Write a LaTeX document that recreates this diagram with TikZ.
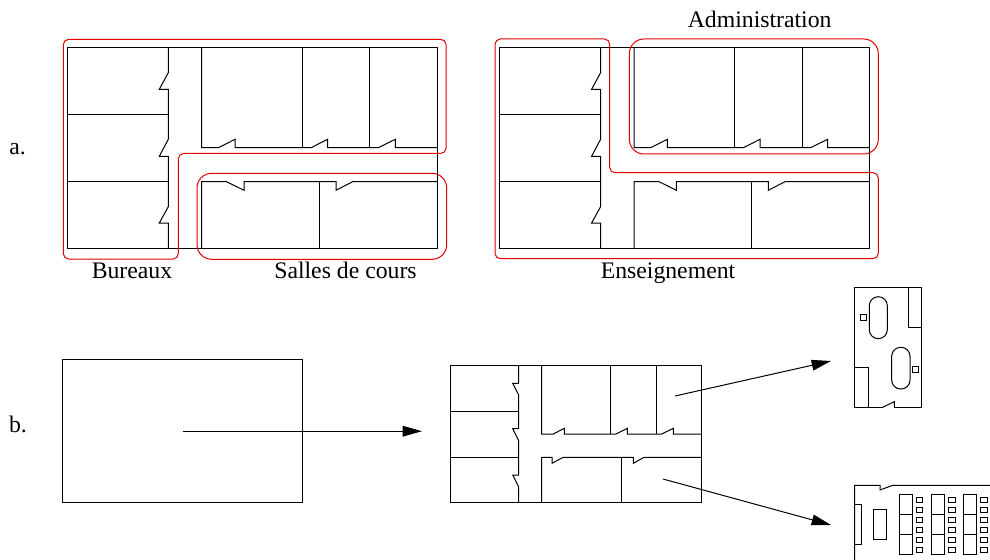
\documentclass[tikz,border=0pt]{standalone}
\usepackage{fontspec}
\setmainfont{Liberation Serif}
\usetikzlibrary{arrows.meta}
\usetikzlibrary{positioning}
\tikzset{
  mur/.style={line width=0.75pt,line join=miter},
  rouge/.style={line width=0.75pt,red!90!black},
  fleche/.style={line width=0.75pt,-{Triangle[length=14.5pt,width=8pt]}},
  titre/.style={anchor=base,inner sep=0pt,font=\fontsize{17.8}{20}\selectfont},
}
% one floor plan with its walls and doors
\newcommand{\grandplan}{
  \draw[mur](67.3,47.5) rectangle (437,248.6);
  \draw[mur](168.3,47.5)--(168.3,72.7)--(159.3,89.3)--(168.3,89.3)--(168.3,139.3)--(159.3,156.3)--(168.3,156.3)
    --(168.3,206.7)--(159.3,223)--(168.3,223)--(168.3,248.6);
  \draw[mur](67.3,114.3)--(168.3,114.3);
  \draw[mur](67.3,181.7)--(168.3,181.7);
  \draw[mur](201.7,47.5)--(201.7,147.7)--(218.3,147.7)--(235,139.3)--(235,147.7)--(311,147.7)--(327.7,139.3)--(327.7,147.7)
    --(378.3,147.7)--(395.3,139.3)--(395.3,147.7)--(437,147.7);
  \draw[mur](302.3,47.5)--(302.3,147.7);
  \draw[mur](369.7,47.5)--(369.7,147.7);
  \draw[mur](201.7,248.6)--(201.7,181.7)--(226.7,181.7)--(244,190.3)--(244,181.7)--(336,181.7)--(336,190.3)--(352.7,181.7)--(437,181.7);
  \draw[mur](319.3,181.7)--(319.3,248.6);
}
\begin{document}
\begin{tikzpicture}[x=0.75pt,y=-0.75pt]
\useasboundingbox (0,0) rectangle (990,560);

\grandplan
\begin{scope}[shift={(432.3,0)}]
\grandplan
\end{scope}

% groups of rooms
\draw[rouge,rounded corners=4pt](63.3,39.3)--(446,39.3)--(446,153.5)--(178.3,153.5)--(178.3,259)--(63.3,259)--cycle;
\draw[rouge,rounded corners=11pt](197,173.3) rectangle (446.7,259.3);
\draw[rouge,rounded corners=11pt](629.3,39) rectangle (878.3,154);
\draw[rouge,rounded corners=4pt](495,39)--(609.7,39)--(609.7,172.7)--(878.3,172.7)--(878.3,258.7)--(495,258.7)--cycle;

\node[titre] (a) at (17.5,155) {a.};
\node[titre] (bureaux) at (132,278) {Bureaux};
\node[titre] (salles) at (345.5,278) {Salles de cours};
\node[titre] (enseignement) at (668,278) {Enseignement};
\node[titre] (administration) at (759.7,28) {Administration};
\node[titre] (b) at (18,432) {b.};

\node[draw,mur,minimum width=180pt,minimum height=107.6pt,inner sep=0pt] (bloc) at (182.5,431.2) {};

% small plan
\draw[mur](450,365.3) rectangle (701.7,502.7);
\draw[mur](518.7,365.3)--(518.7,383.3)--(512.7,383.3)--(518.7,395)--(518.7,428.7)--(512.7,428.7)--(518.7,440.7)
  --(518.7,475)--(512.7,475)--(518.7,487)--(518.7,502.7);
\draw[mur](450,411.3)--(518.7,411.3);
\draw[mur](450,457.3)--(518.7,457.3);
\draw[mur](541.7,365.3)--(541.7,434)--(553.3,434)--(564.3,428.3)--(564.3,434)--(616,434)--(627.3,428.3)--(627.3,434)
  --(661.7,434)--(673.3,428.3)--(673.3,434)--(701.7,434);
\draw[mur](610.3,365.3)--(610.3,434);
\draw[mur](656,365.3)--(656,434);
\draw[mur](541.7,502.7)--(541.7,457.3)--(552,457.3)--(552,463.3)--(563.3,457.3)--(633.3,457.3)--(633.3,463.3)--(644,457.3)--(701.7,457.3);
\draw[mur](621.7,457.3)--(621.7,502.7);

% office
\draw[mur](854.7,287.3) rectangle (921.3,407.7);
\draw[white,line width=1.2pt](881.7,407.7)--(894.3,407.7);
\draw[mur](881.7,407.7)--(894.3,401.7)--(894.3,407.7);
\draw[mur](908,287.3) rectangle (921.3,327.7);
\draw[mur](854.7,367.7) rectangle (868,407.7);
\draw[mur,rounded corners=6.7pt](869.3,296.7) rectangle (887.3,338.7);
\draw[mur,rounded corners=6.7pt](891.7,347.3) rectangle (910,389);
\draw[mur](860,314) rectangle (866.3,320);
\draw[mur](912,366.3) rectangle (918,372.3);

% classroom
\draw[mur](854.7,560)--(854.7,485.3)--(880,485.3)--(880,490)--(892.7,485.3)--(990,485.3);
\draw[mur](854.7,504.3) rectangle (861.3,544.3);
\draw[mur](873.7,509.3) rectangle (886.7,539);
\foreach \x in {899,931,963}{
  \foreach \y in {494.7,514.5,534.4}
    \draw[mur](\x,\y) rectangle +(13.3,19.9);
}
\foreach \x in {916,948.5,980.2}{
  \foreach \y in {497.7,507.2,517.4,527.1,537.3,547.1}
    \draw[mur](\x,\y) rectangle +(6.8,5);
}

\coordinate (ciblebloc) at (422,431.2);
\coordinate (departbureau) at (675,396);
\coordinate (ciblebureau) at (831,361);
\coordinate (departsalle) at (663,479);
\coordinate (ciblesalle) at (831,525);
\draw[fleche](bloc.center)--(ciblebloc);
\draw[fleche](departbureau)--(ciblebureau);
\draw[fleche](departsalle)--(ciblesalle);
\end{tikzpicture}
\end{document}
